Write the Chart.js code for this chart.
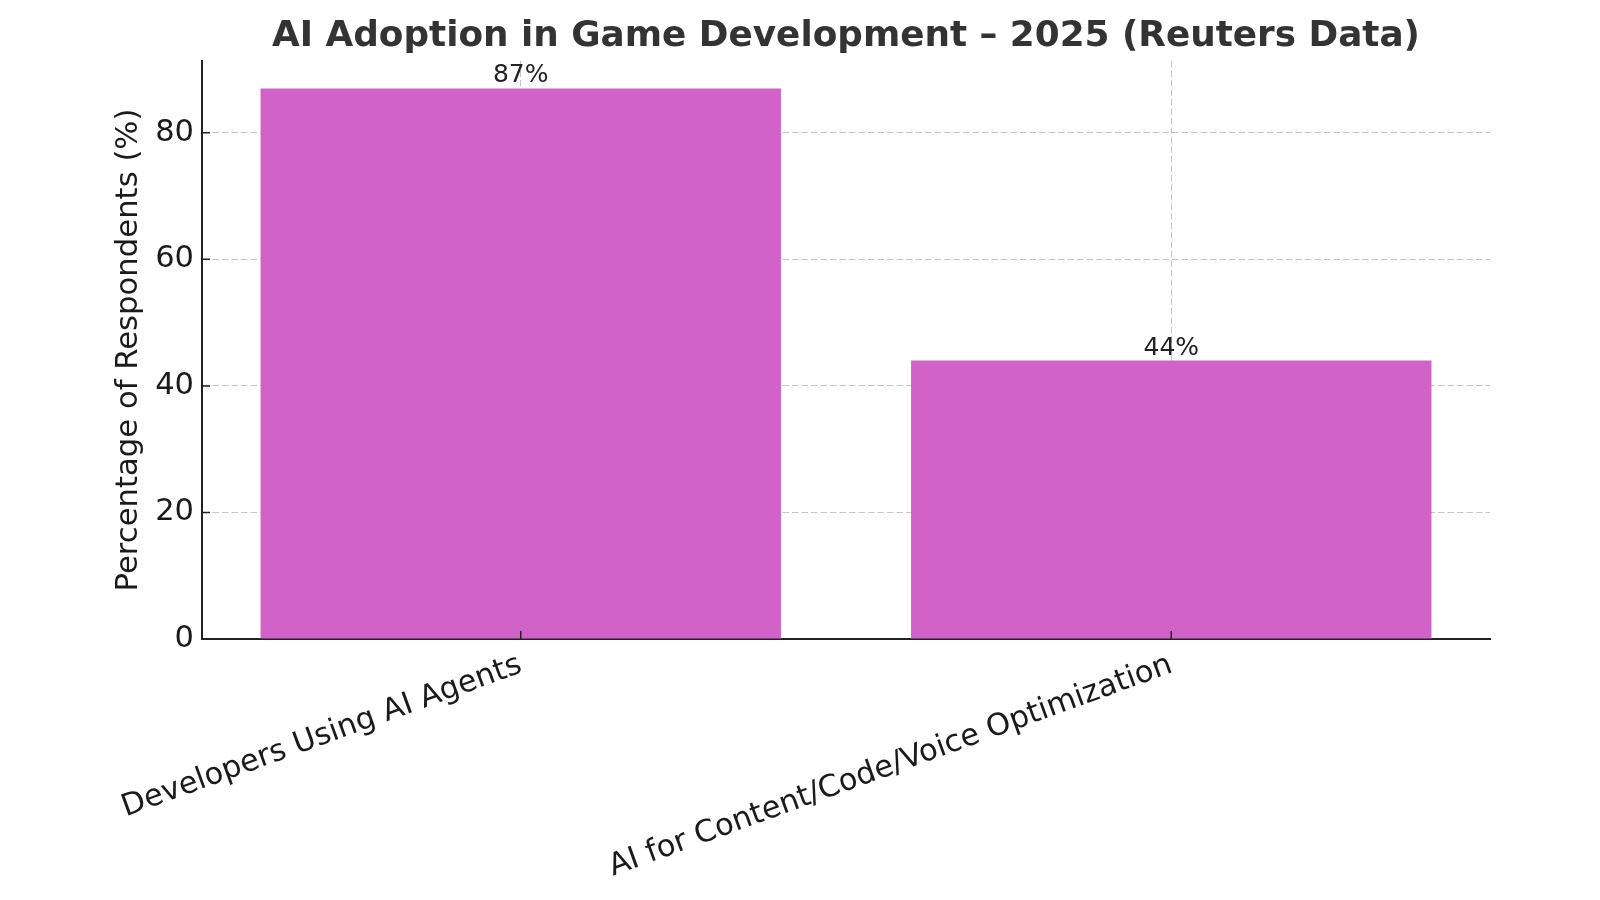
<!DOCTYPE html>
<html>
<head>
<meta charset="utf-8">
<script src="https://cdn.jsdelivr.net/npm/chart.js@4.4.1/dist/chart.umd.min.js"></script>
<style>
  html, body { margin: 0; padding: 0; background: #fff; }
  #wrap { width: 1600px; height: 900px; }
</style>
</head>
<body>
<div id="wrap"><canvas id="ai_adoption_chart" width="1600" height="900"></canvas></div>
<script>
const categories = ['Developers Using AI Agents', 'AI for Content/Code/Voice Optimization'];
const percentages = [87, 44];
const yTicks = [0, 20, 40, 60, 80];

const FONT = "'DejaVu Sans', sans-serif";
const gridColor = 'rgba(150, 150, 150, 0.55)';
const axisColor = '#222';

Chart.defaults.font.family = FONT;

// value labels above each bar
const barLabels = {
    id: 'barLabels',
    afterDatasetsDraw(chart) {
        const ctx = chart.ctx;
        const meta = chart.getDatasetMeta(0);
        ctx.save();
        ctx.font = '25px ' + FONT;
        ctx.fillStyle = '#222';
        ctx.textAlign = 'center';
        ctx.textBaseline = 'alphabetic';
        meta.data.forEach((bar, i) => {
            ctx.fillText(percentages[i] + '%', bar.x, bar.y - 6);
        });
        ctx.restore();
    }
};

// short inward tick marks, like the original
const inwardTicks = {
    id: 'inwardTicks',
    afterDraw(chart) {
        const ctx = chart.ctx;
        const xs = chart.scales.x, ys = chart.scales.y;
        const area = chart.chartArea;
        ctx.save();
        ctx.strokeStyle = axisColor;
        ctx.lineWidth = 1.5;
        ctx.beginPath();
        xs.ticks.forEach(t => {
            const px = xs.getPixelForValue(t.value);
            ctx.moveTo(px, area.bottom);
            ctx.lineTo(px, area.bottom - 8);
        });
        ys.ticks.forEach(t => {
            const py = ys.getPixelForValue(t.value);
            ctx.moveTo(area.left, py);
            ctx.lineTo(area.left + 8, py);
        });
        ctx.stroke();
        ctx.restore();
    }
};

const ctx = document.getElementById('ai_adoption_chart').getContext('2d');

const adoptionChart = new Chart(ctx, {
    type: 'bar',
    data: {
        datasets: [{
            data: percentages.map((v, i) => ({ x: i, y: v })),
            backgroundColor: '#D062C8',
            borderWidth: 0,
            barPercentage: 0.8,
            categoryPercentage: 1.0
        }]
    },
    options: {
        responsive: false,
        animation: false,
        devicePixelRatio: 1,
        layout: { padding: { left: 0, right: 110, top: 0, bottom: 0 } },
        scales: {
            x: {
                type: 'linear',
                min: -0.49,
                max: 1.49,
                offset: false,
                z: 1,
                afterBuildTicks: s => { s.ticks = categories.map((c, i) => ({ value: i })); },
                afterFit: s => { s.height = 261; },
                ticks: {
                    callback: v => categories[v],
                    minRotation: 20,
                    maxRotation: 20,
                    autoSkip: false,
                    color: '#1a1a1a',
                    font: { size: 30.5 },
                    padding: 8
                },
                grid: { color: gridColor, lineWidth: 1, drawTicks: false, offset: false },
                border: { display: true, color: axisColor, width: 2, dash: [6.5, 3] }
            },
            y: {
                min: 0,
                max: 91.35,
                z: 1,
                afterBuildTicks: s => { s.ticks = yTicks.map(v => ({ value: v })); },
                afterFit: s => { s.width = 202; },
                ticks: {
                    color: '#1a1a1a',
                    font: { size: 30.5 },
                    padding: 8
                },
                grid: { color: gridColor, lineWidth: 1, drawTicks: false },
                border: { display: true, color: axisColor, width: 2, dash: [6.5, 3] },
                title: {
                    display: true,
                    text: 'Percentage of Respondents (%)',
                    color: '#1a1a1a',
                    font: { size: 30.7 },
                    padding: { top: 111, bottom: 0 }
                }
            }
        },
        plugins: {
            legend: { display: false },
            tooltip: { enabled: false },
            title: {
                display: true,
                text: 'AI Adoption in Game Development – 2025 (Reuters Data)',
                color: '#333',
                font: { size: 35.8, weight: 'bold' },
                fullSize: false,
                padding: { top: 15, bottom: 3 }
            }
        }
    },
    plugins: [barLabels, inwardTicks]
});
</script>
</body>
</html>
